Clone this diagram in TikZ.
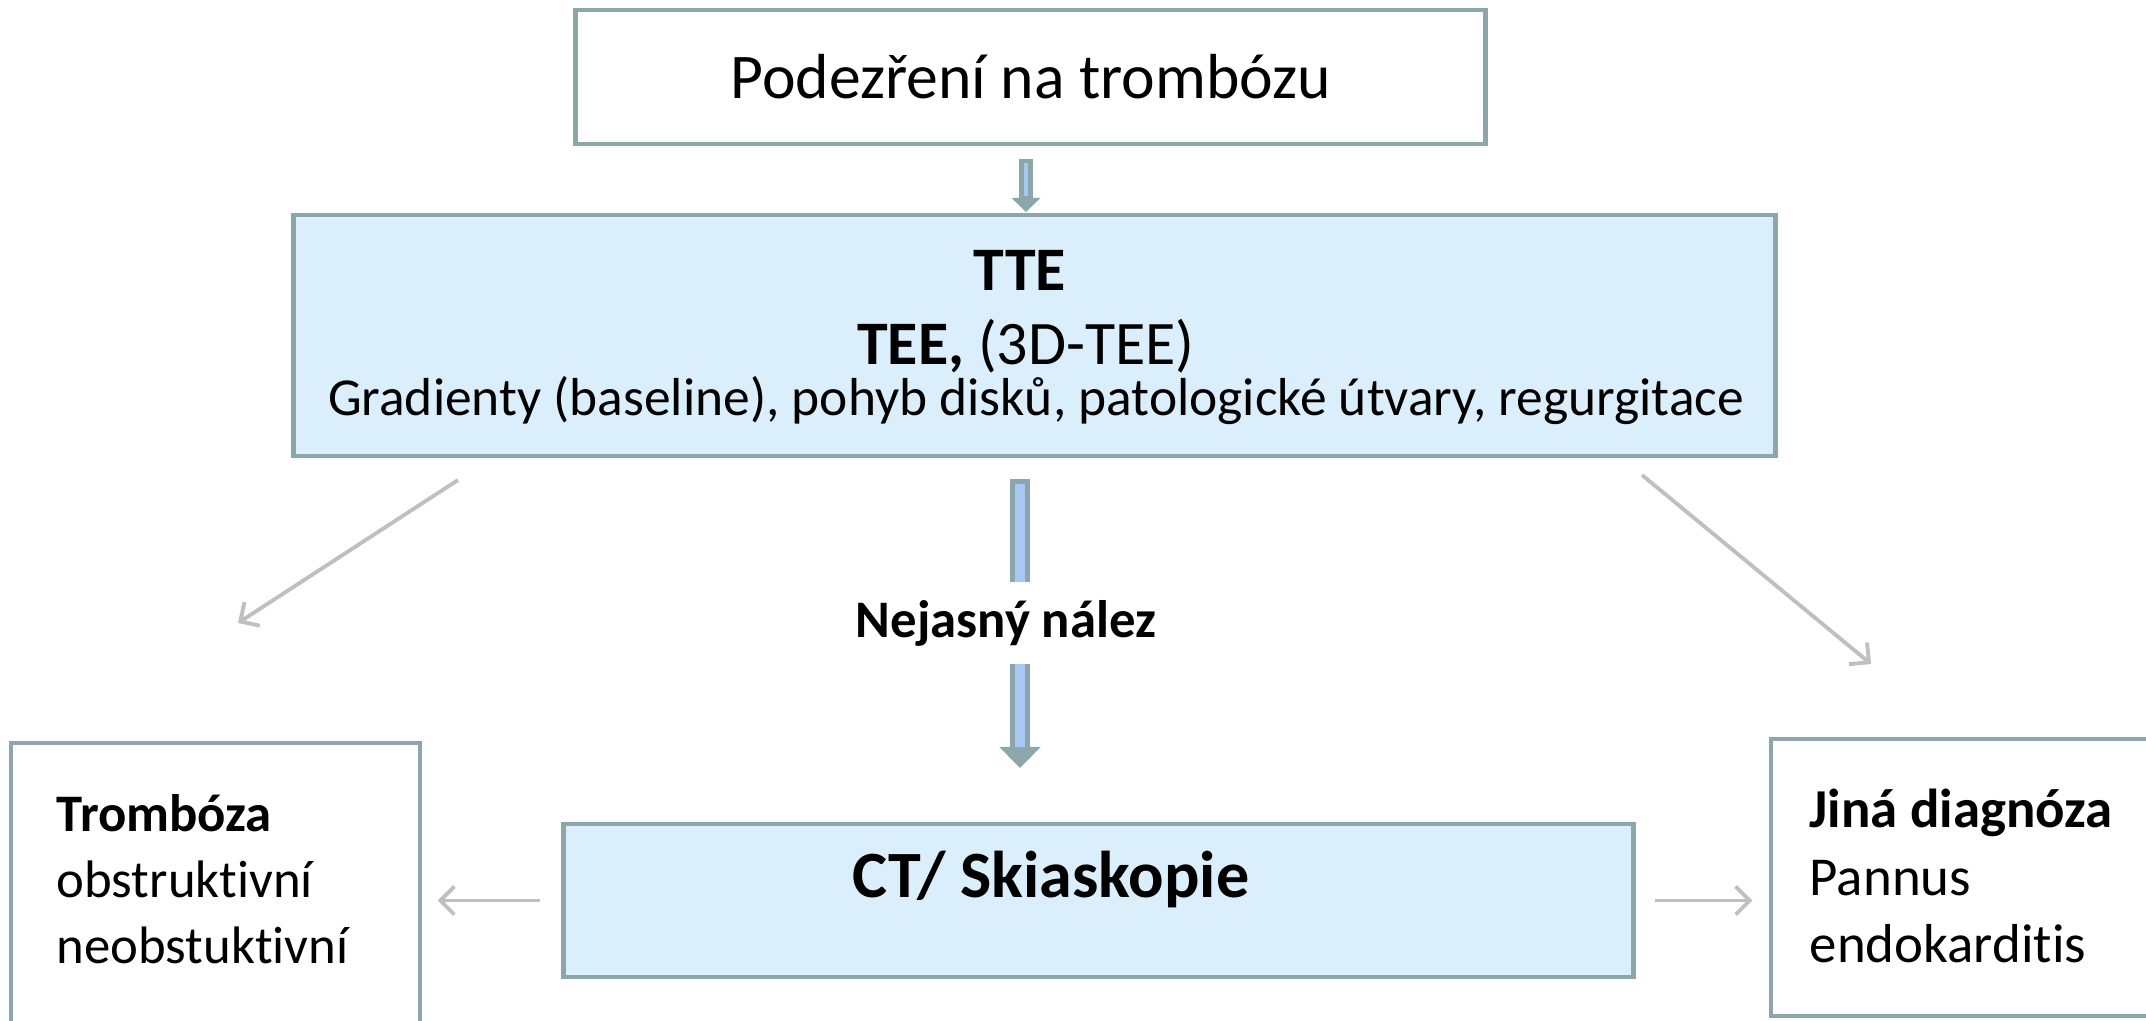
\documentclass[tikz,border=0pt]{standalone}
\usepackage{fontspec}
\setmainfont{Carlito}[Ligatures=NoCommon]
\usetikzlibrary{positioning,arrows.meta}
\definecolor{boxline}{RGB}{141,166,169}
\definecolor{boxfill}{RGB}{219,238,252}
\definecolor{shaftblue}{RGB}{166,200,242}
\definecolor{thinarrow}{RGB}{191,191,191}

\begin{document}
\begin{tikzpicture}[
x=0.01cm, y=-0.01cm,
node distance = 8pt and 64pt,
plainbox/.style={rectangle, draw=boxline, line width=1.3pt, fill=white, inner sep=0pt},
shadedbox/.style={plainbox, fill=boxfill},
grayarrow/.style={draw=thinarrow, line width=1.1pt, -{Straight Barb[length=4pt,width=8pt]}},
big/.style={font=\fontsize{17.6}{21}\selectfont},
small/.style={font=\fontsize{15.2}{18}\selectfont},
side/.style={anchor=west, align=left, inner sep=0pt, font=\fontsize{15}{18.8}\selectfont}]

\useasboundingbox (0,0) rectangle (2146,1020);

\node[plainbox, font=\fontsize{18.1}{21.5}\selectfont, minimum width=9.09cm, minimum height=1.34cm] (susp) at (1030.5,77) {Podezření na trombózu};
\node[shadedbox, minimum width=14.81cm, minimum height=2.41cm] (echo) at (1034.5,335.5) {};
\node[shadedbox, minimum width=10.69cm, minimum height=1.53cm] (ct) at (1098.5,900.5) {};
\node[plainbox, minimum width=4.09cm, minimum height=2.97cm] (tromb) at (215.5,891.5) {};
\node[plainbox, minimum width=3.89cm, minimum height=2.77cm] (jina) at (1965.5,877.5) {};

\node[big, font=\fontsize{17.6}{21}\selectfont\bfseries] (tte) at (1020,270) {TTE};
\node[big] (tee) at (1026,346) {\textbf{TEE,} (3D-TEE)};
\node[small] (grad) at (1036,401) {Gradienty (baseline), pohyb disků, patologické útvary, regurgitace};
\node[font=\fontsize{18.8}{22}\selectfont\bfseries] (ctlabel) at (1051,879) {CT/ Skiaskopie};
\node[side] (trombtext) at (56,879) {\textbf{Trombóza}\\obstruktivní\\neobstuktivní};
\node[side, font=\fontsize{15.6}{19.2}\selectfont] (jinatext) at (1809,876) {\textbf{Jiná diagnóza}\\Pannus\\endokarditis};

% block arrows
\coordinate (a1) at (1026,159);
\coordinate (a2) at (1026,212);
\draw[line width=4pt, boxline, -{Triangle[width=8pt,length=4pt]}] (a1) -- (a2);
\draw[line width=1.4pt, shaftblue, shorten <=1.2pt, shorten >=4.5pt] (a1) -- (a2);

\coordinate (b1) at (1020,479);
\coordinate (b2) at (1020,768);
\draw[line width=5.7pt, boxline, -{Triangle[width=11.4pt,length=6pt]}] (b1) -- (b2);
\draw[line width=2.8pt, shaftblue, shorten <=1.4pt, shorten >=6pt] (b1) -- (b2);
\node[fill=white, inner xsep=2pt, inner ysep=5pt, font=\fontsize{15}{18}\selectfont\bfseries] (nejasny) at (1006,623) {Nejasný nález};

% thin arrows
\coordinate (l1) at (458,480);
\coordinate (l2) at (238,623);
\coordinate (r1) at (1642,475);
\coordinate (r2) at (1871,664);
\draw[grayarrow] (l1) -- (l2);
\draw[grayarrow] (r1) -- (r2);
\draw[grayarrow, shorten <=6pt, shorten >=4.3pt] (ct.west) -- (ct.west -| tromb.east);
\draw[grayarrow, shorten <=5.4pt, shorten >=4.6pt] (ct.east) -- (ct.east -| jina.west);
\end{tikzpicture}
\end{document}
